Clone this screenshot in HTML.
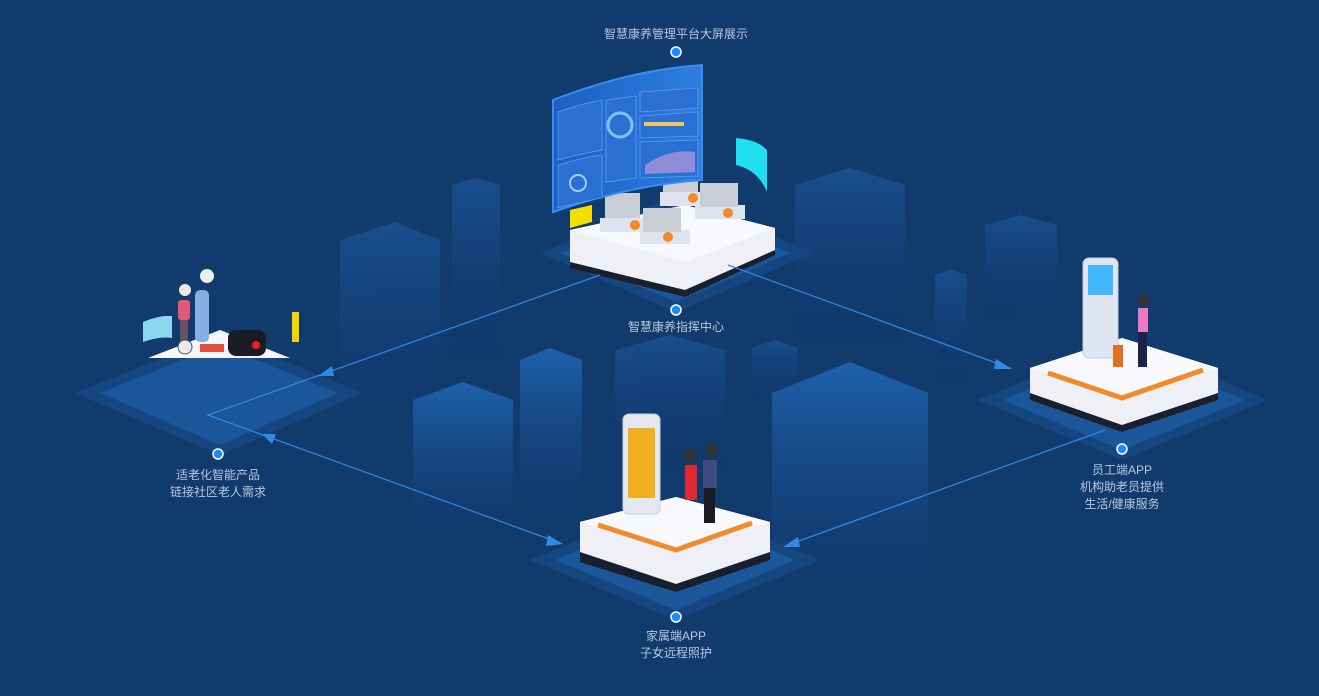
<!DOCTYPE html>
<html><head><meta charset="utf-8"><style>
html,body{margin:0;padding:0;background:#113a6d;}
body{width:1319px;height:696px;overflow:hidden;position:relative;font-family:"Liberation Sans","Noto Sans CJK SC",sans-serif;}
.l{position:absolute;color:#b9c8dc;font-size:12px;text-align:center;line-height:17px;width:200px;}
</style></head><body>
<svg width="1319" height="696" style="position:absolute;left:0;top:0">
<defs>
<linearGradient id="b" x1="0" y1="0" x2="0" y2="1"><stop offset="0" stop-color="#1a5496"/><stop offset="1" stop-color="#113a6d" stop-opacity="0"/></linearGradient>
<linearGradient id="b2" x1="0" y1="0" x2="0" y2="1"><stop offset="0" stop-color="#1e62ad"/><stop offset="1" stop-color="#123d72" stop-opacity="0.2"/></linearGradient>
<linearGradient id="scr" x1="0" y1="0" x2="1" y2="0"><stop offset="0" stop-color="#1b5fc4"/><stop offset="1" stop-color="#2d7ee0"/></linearGradient>
</defs>
<g opacity="0.8">
<polygon points="340,240 395,222 440,240 440,430 340,430" fill="url(#b)"/>
<polygon points="452,185 475,178 500,185 500,360 452,360" fill="url(#b)"/>
<polygon points="795,185 850,168 905,185 905,340 795,340" fill="url(#b)"/>
<polygon points="985,225 1020,215 1057,225 1057,320 985,320" fill="url(#b)"/>
<polygon points="935,275 950,270 967,275 967,380 935,380" fill="url(#b)"/>
<polygon points="615,350 670,335 725,350 725,470 615,470" fill="url(#b)"/>
<polygon points="752,348 775,340 798,348 798,400 752,400" fill="url(#b)"/>
</g>
<polygon points="413,400 463,382 513,400 513,525 413,525" fill="url(#b2)"/>
<polygon points="520,360 550,348 582,360 582,510 520,510" fill="url(#b2)"/>
<polygon points="772,393 850,362 928,393 928,585 772,585" fill="url(#b2)"/>
<polygon points="676,195 813,253 676,312 540,253" fill="#15467f"/>
<polygon points="676,205 790,253 676,302 560,253" fill="#1a5699"/>
<polygon points="220,335 363,393 220,455 75,393" fill="#15467f"/>
<polygon points="220,345 338,393 220,445 100,393" fill="#1a5699"/>
<polygon points="1122,340 1268,400 1122,460 978,400" fill="#15467f"/>
<polygon points="1122,350 1245,400 1122,450 1003,400" fill="#1a5699"/>
<polygon points="676,500 820,560 676,620 530,560" fill="#15467f"/>
<polygon points="676,510 795,560 676,610 555,560" fill="#1a5699"/>
<polygon points="570,235 685,215 775,235 775,255 685,297 570,268" fill="#1a1f2e"/>
<polygon points="570,230 685,205 775,228 775,250 685,290 570,262" fill="#eef0f6"/>
<polygon points="570,230 685,205 775,228 685,262" fill="#f8f9fc"/>
<g fill="#dfe3ee"><rect x="600" y="218" width="50" height="14"/><rect x="640" y="230" width="50" height="14"/><rect x="660" y="192" width="50" height="14"/><rect x="695" y="205" width="50" height="14"/></g>
<g fill="#c8cdd6"><rect x="605" y="193" width="35" height="25"/><rect x="643" y="208" width="38" height="24"/><rect x="663" y="168" width="35" height="24"/><rect x="700" y="183" width="38" height="24"/></g>
<g fill="#f08a2a"><circle cx="635" cy="225" r="5"/><circle cx="668" cy="237" r="5"/><circle cx="693" cy="198" r="5"/><circle cx="728" cy="213" r="5"/></g>
<path d="M553,100 Q630,70 702,65 L702,180 Q630,185 553,212 Z" fill="url(#scr)" stroke="#3a8cf0" stroke-width="2"/>
<g fill="#2a6fd2" stroke="#5aa0f0" stroke-width="0.8">
<path d="M558,112 Q580,104 602,100 L602,150 Q580,154 558,160Z"/>
<path d="M558,165 Q580,158 602,155 L602,198 Q580,202 558,208Z"/>
<path d="M606,100 L636,96 L636,178 L606,182Z"/>
<path d="M640,92 L698,88 L698,108 L640,112Z"/>
<path d="M640,116 L698,112 L698,136 L640,138Z"/>
<path d="M640,142 L698,140 L698,176 L640,178Z"/>
</g>
<circle cx="620" cy="125" r="12" fill="none" stroke="#7cc4ff" stroke-width="3"/>
<rect x="644" y="122" width="40" height="4" fill="#f3c25c"/>
<path d="M645,165 Q670,148 695,152 L695,172 L645,174Z" fill="#8f8cd8"/>
<circle cx="578" cy="183" r="8" fill="none" stroke="#9cd0ff" stroke-width="2"/>
<polygon points="570,210 592,205 592,222 570,228" fill="#f2e000"/>
<path d="M736,138 Q758,140 767,150 L767,192 Q758,170 736,165 Z" fill="#1fe0f2"/>
<polygon points="148,358 220,330 290,358" fill="#f4f6fb"/>
<path d="M143,322 Q160,315 172,316 L172,338 Q160,336 143,342Z" fill="#8ad8f0"/>
<rect x="195" y="290" width="14" height="52" rx="5" fill="#86aee2"/>
<circle cx="207" cy="276" r="7" fill="#eee"/>
<rect x="178" y="300" width="12" height="20" rx="3" fill="#e05a78"/>
<rect x="180" y="320" width="8" height="25" fill="#6a5060"/>
<circle cx="185" cy="290" r="6" fill="#f0e8e0"/>
<rect x="200" y="344" width="24" height="8" fill="#e05040"/>
<circle cx="185" cy="347" r="7" fill="#e8ebf2" stroke="#555" stroke-width="1"/>
<rect x="228" y="330" width="38" height="26" rx="8" fill="#1a1c25"/>
<circle cx="256" cy="345" r="4" fill="#e82020"/>
<rect x="292" y="312" width="7" height="30" fill="#f2d500"/>
<polygon points="1030,370 1122,340 1218,370 1218,400 1122,432 1030,400" fill="#1a1f2e"/>
<polygon points="1030,368 1122,338 1218,368 1218,393 1122,425 1030,393" fill="#eef0f6"/>
<polygon points="1030,368 1122,338 1218,368 1122,398" fill="#f8f9fc"/>
<polyline points="1048,373 1122,398 1203,370" fill="none" stroke="#f08a2a" stroke-width="5"/>
<rect x="1083" y="258" width="35" height="100" rx="6" fill="#dfe6f2" stroke="#c2cad8"/>
<rect x="1088" y="265" width="25" height="30" fill="#41b7ff"/>
<rect x="1138" y="308" width="10" height="24" fill="#ea7ac2"/>
<rect x="1138" y="332" width="9" height="35" fill="#1c2248"/>
<circle cx="1143" cy="300" r="6" fill="#333"/>
<rect x="1113" y="345" width="10" height="22" fill="#e07020"/>
<polygon points="580,525 676,500 770,525 770,560 676,592 580,562" fill="#1a1f2e"/>
<polygon points="580,522 676,497 770,522 770,552 676,584 580,552" fill="#eef0f6"/>
<polygon points="580,522 676,497 770,522 676,550" fill="#f8f9fc"/>
<polyline points="598,525 676,550 752,523" fill="none" stroke="#f08a2a" stroke-width="5"/>
<rect x="623" y="414" width="37" height="100" rx="6" fill="#e4e8f0" stroke="#c9cfdb"/>
<rect x="628" y="428" width="27" height="70" fill="#f0b020"/>
<rect x="685" y="465" width="12" height="35" fill="#e02832"/>
<circle cx="690" cy="455" r="6" fill="#333"/>
<rect x="703" y="460" width="14" height="28" fill="#3e4a80"/>
<rect x="704" y="488" width="11" height="35" fill="#1a1a22"/>
<circle cx="712" cy="450" r="6" fill="#333"/>
<g stroke="#2f8ae6" stroke-width="1.2" fill="none">
<polyline points="600,275 208,415 560,543"/>
<line x1="728" y1="265" x2="1010" y2="368"/>
<line x1="1105" y1="430" x2="785" y2="546"/>
</g>
<g fill="#2f8ae6">
<polygon points="318,376 332,366 334,376"/>
<polygon points="262,434 276,434 272,444"/>
<polygon points="563,544 548,535 546,546"/>
<polygon points="1012,369 996,359 994,369"/>
<polygon points="783,547 798,537 800,547"/>
</g>
<g fill="#1a8cff" stroke="#fff" stroke-width="1.5">
<circle cx="676" cy="52" r="5"/><circle cx="676" cy="310" r="5"/><circle cx="218" cy="454" r="5"/><circle cx="1122" cy="449" r="5"/><circle cx="676" cy="617" r="5"/>
</g>
</svg>
<div class="l" style="left:576px;top:26px">智慧康养管理平台大屏展示</div>
<div class="l" style="left:576px;top:319px">智慧康养指挥中心</div>
<div class="l" style="left:118px;top:467px">适老化智能产品<br>链接社区老人需求</div>
<div class="l" style="left:1022px;top:462px">员工端APP<br>机构助老员提供<br>生活/健康服务</div>
<div class="l" style="left:576px;top:628px">家属端APP<br>子女远程照护</div>
</body></html>
